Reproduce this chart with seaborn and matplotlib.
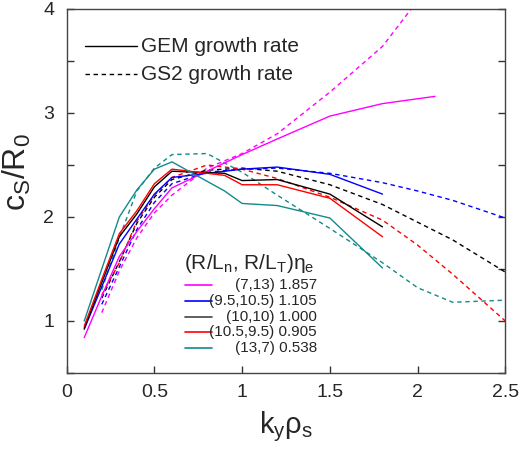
import matplotlib
matplotlib.use("Agg")
import matplotlib.pyplot as plt
import seaborn as sns
import pandas as pd

# ---------------- data ----------------
series_names = ["(7,13)", "(9.5,10.5)", "(10,10)", "(10.5,9.5)", "(13,7)"]
eta_e = ["1.857", "1.105", "1.000", "0.905", "0.538"]
series_colors = ["#ff00ff", "#0000ff", "#000000", "#ff0000", "#138a8a"]
legend_colors = ["#ff00ff", "#0000ff", "#444444", "#ff0000", "#138a8a"]

ky_gem = [0.1, 0.2, 0.3, 0.4, 0.5, 0.6, 0.9, 1.0, 1.2, 1.5, 1.8]
ky_gem_713 = [0.1, 0.2, 0.3, 0.4, 0.5, 0.6, 1.0, 1.2, 1.5, 1.8, 2.1]
gem_713 = [0.84, 1.24, 1.62, 1.86, 2.08, 2.28, 2.60, 2.75, 2.97, 3.09, 3.16]
gem_95 = [0.92, 1.33, 1.74, 1.98, 2.22, 2.38, 2.44, 2.46, 2.48, 2.41, 2.22]
gem_10 = [0.93, 1.37, 1.81, 2.03, 2.29, 2.44, 2.42, 2.35, 2.36, 2.22, 1.905]
gem_105 = [0.95, 1.40, 1.84, 2.06, 2.32, 2.46, 2.40, 2.31, 2.31, 2.18, 1.81]
gem_137 = [1.00, 1.50, 2.00, 2.26, 2.46, 2.53, 2.25, 2.13, 2.11, 1.99, 1.51]

ky_gs2 = [0.2, 0.3, 0.4, 0.5, 0.6, 0.8, 1.0, 1.2, 1.5, 1.8, 2.0, 2.2, 2.5]
ky_gs2_713 = [0.2, 0.3, 0.4, 0.5, 0.6, 0.8, 1.0, 1.2, 1.5, 1.8, 2.0]
gs2_713 = [1.08, 1.48, 1.80, 2.04, 2.21, 2.47, 2.61, 2.80, 3.20, 3.64, 4.08]
gs2_95 = [1.16, 1.52, 1.88, 2.14, 2.32, 2.43, 2.46, 2.47, 2.42, 2.33, 2.25, 2.16, 1.99]
gs2_10 = [1.22, 1.57, 1.94, 2.19, 2.36, 2.45, 2.47, 2.44, 2.31, 2.12, 1.95, 1.78, 1.47]
gs2_105 = [1.25, 1.56, 1.96, 2.21, 2.38, 2.50, 2.46, 2.37, 2.19, 1.97, 1.73, 1.45, 1.00]
gs2_137 = [1.30, 1.80, 2.25, 2.47, 2.60, 2.61, 2.43, 2.21, 1.89, 1.56, 1.32, 1.18, 1.20]

gem_x = [ky_gem_713, ky_gem, ky_gem, ky_gem, ky_gem]
gem_y = [gem_713, gem_95, gem_10, gem_105, gem_137]
gs2_x = [ky_gs2_713, ky_gs2, ky_gs2, ky_gs2, ky_gs2]
gs2_y = [gs2_713, gs2_95, gs2_10, gs2_105, gs2_137]

x_ticks = [0, 0.5, 1, 1.5, 2, 2.5]
x_tick_labels = ["0", "0.5", "1", "1.5", "2", "2.5"]
y_ticks = [1, 2, 3, 4]
y_tick_labels = ["1", "2", "3", "4"]

# ---------------- style ----------------
sns.set_theme(style="white")
plt.rcParams["font.family"] = ["Liberation Sans", "DejaVu Sans"]
plt.rcParams["mathtext.fontset"] = "custom"
plt.rcParams["mathtext.rm"] = "Liberation Sans"
plt.rcParams["mathtext.it"] = "Liberation Sans"
plt.rcParams["mathtext.bf"] = "Liberation Sans:bold"

fig = plt.figure(figsize=(5.28, 4.49), dpi=100)
ax = fig.add_axes([0.1263, 0.1693, 0.8307, 0.8107])

dash = (0, (3.2, 2.6))
lw = 1.0

for xs, ys, c in zip(gs2_x, gs2_y, series_colors):
    df = pd.DataFrame({"ky": xs, "g": ys})
    sns.lineplot(data=df, x="ky", y="g", color=c, lw=lw, linestyle=dash,
                 sort=False, estimator=None, ax=ax)
for xs, ys, c in zip(gem_x, gem_y, series_colors):
    df = pd.DataFrame({"ky": xs, "g": ys})
    sns.lineplot(data=df, x="ky", y="g", color=c, lw=lw,
                 sort=False, estimator=None, ax=ax)

ax.set_xlim(0, 2.5)
ax.set_ylim(0.5, 4)
ax.set_xticks(x_ticks)
ax.set_xticklabels(x_tick_labels)
ax.set_yticks(y_ticks)
ax.set_yticklabels(y_tick_labels)
ax.set_yticks([0.5, 1.5, 2.5, 3.5], minor=True)
ax.tick_params(axis="both", which="both", direction="in", labelsize=14,
               color="#333333", width=1.0)
ax.tick_params(axis="x", which="major", length=5, pad=8, bottom=True, top=False)
ax.tick_params(axis="y", which="both", length=5, pad=9, left=True, right=True)
for s in ax.spines.values():
    s.set_color("#444444")
    s.set_linewidth(1.0)

ax.set_xlabel(r"$\mathrm{k_y\rho_s}$", fontsize=21, labelpad=6)
ax.set_ylabel(r"$\mathrm{c_S/R_0}$", fontsize=23)
ax.yaxis.set_label_coords(-0.077, 0.551)

# ---------------- legends ----------------
tA = ax.transAxes
ax.plot([0.0417, 0.1607], [0.898, 0.898], color="black", lw=lw, transform=tA)
ax.plot([0.0417, 0.1607], [0.821, 0.821], color="black", lw=lw, linestyle=dash, transform=tA)
ax.text(0.1696, 0.898, "GEM growth rate", transform=tA, fontsize=15, va="center", ha="left")
ax.text(0.1696, 0.821, "GS2 growth rate", transform=tA, fontsize=15, va="center", ha="left")

ax.text(0.2675, 0.302, r"(R/L$_\mathrm{n}$, R/L$_\mathrm{T}$)$\eta_\mathrm{e}$", transform=tA,
        fontsize=15, va="center", ha="left")
rows_y = [0.2418, 0.1978, 0.1538, 0.1126, 0.0687]
for yy, name, eta, c in zip(rows_y, series_names, eta_e, legend_colors):
    ax.plot([0.2698, 0.3314], [yy, yy], color=c, lw=1.2, transform=tA)
    ax.text(0.5705, yy, f"{name} {eta}", transform=tA, fontsize=11,
            va="center", ha="right")

fig.savefig("out.png", dpi=100)
